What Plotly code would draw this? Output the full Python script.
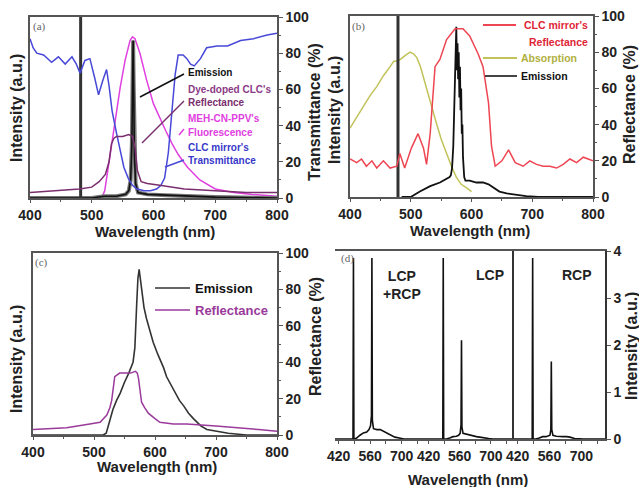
import plotly.graph_objects as go

W, H = 639, 487


def px(x):
    return x / W


def py(y):
    return 1 - y / H


# ---------------- data ----------------
# Panel (a)
a_pump_wl = [482, 482]
a_pump_int = [0, 100]

a_fluor_wl = [505, 516, 521, 530, 538, 546, 554, 562, 566, 570, 578, 589, 600, 610, 620, 630, 640, 655, 675, 700, 730, 760, 800]
a_fluor_int = [0, 0, 4, 25, 43, 61, 76, 87, 89, 88, 80, 65, 52, 44, 37, 30, 24, 17, 10, 5, 3, 2, 1]

a_emis_wl = [400, 500, 520, 540, 555, 560, 563, 565, 566, 567, 568, 569, 571, 575, 590, 620, 660, 700, 800]
a_emis_int = [0, 0, 1, 1, 2, 4, 10, 30, 60, 87, 60, 25, 8, 3, 2, 1.5, 1, 0.5, 0]

a_refl_wl = [400, 450, 480, 500, 512, 522, 528, 532, 536, 540, 550, 560, 566, 570, 574, 580, 590, 610, 650, 700, 750, 800]
a_refl_pct = [3, 4, 5, 6, 9, 13, 20, 30, 33, 34, 34, 35, 34, 28, 15, 9, 8, 7, 5, 4, 3, 3]

a_trans_wl = [400, 405, 411, 422, 435, 446, 457, 468, 475, 481, 489, 497, 505, 511, 518, 524, 528, 533, 540, 546,
              552, 559, 566, 573, 585, 595, 605, 612, 618, 624, 630, 635, 640, 648, 654, 660, 666, 676, 686, 703,
              720, 741, 762, 784, 800]
a_trans_pct = [88, 83, 80, 79, 75, 78, 74, 78, 74, 69, 76, 77, 66, 57, 65, 71, 62, 48, 36, 26,
               17, 11, 7, 5, 4, 4, 5, 7, 11, 25, 50, 68, 79, 79, 77, 74, 73, 77, 83, 84,
               84, 87, 88, 90, 91]

# Panel (b)
b_pump_wl = [479, 479]
b_pump_int = [0, 100]

b_refl_wl = [400, 411, 419, 427, 436, 444, 455, 466, 477, 482, 490, 501, 512, 521, 526, 532, 540, 548, 559, 573,
             586, 597, 611, 619, 628, 633, 639, 650, 661, 672, 685, 696, 707, 718, 729, 740, 751, 762, 773, 784, 800]
b_refl_pct = [21, 19, 21, 17, 20, 16, 20, 16, 17, 24, 16, 27, 35, 27, 18, 35, 72, 76, 87, 93,
              93, 89, 79, 72, 52, 28, 17, 20, 26, 19, 17, 20, 18, 17, 17, 16, 18, 21, 19, 22, 20]

b_abs_wl = [400, 411, 422, 433, 444, 455, 466, 472, 477, 483, 490, 499, 505, 510, 516, 521, 527, 532, 537, 542,
            550, 559, 567, 575, 583, 592, 600]
b_abs_int = [38, 44, 50, 56, 61, 67, 72, 75, 75, 76, 78, 80, 79, 77, 72, 66, 59, 52, 46, 41,
             32, 24, 17, 11, 7, 5, 3]

b_emis_wl = [485, 500, 515, 532, 548, 558, 564, 566, 568, 570, 571, 572, 573, 574, 575, 576, 577, 578, 579, 580,
             581, 582, 583, 584, 585, 586, 587, 588, 590, 597, 608, 619, 628, 636, 646, 658, 675, 690, 710, 740, 800]
b_emis_int = [0, 0, 3, 6, 8, 10, 11, 12, 16, 28, 45, 60, 75, 88, 94, 70, 85, 65, 80, 55,
              72, 48, 60, 35, 40, 22, 15, 11, 9, 9, 8, 8, 7, 5, 3, 2, 1, 0.5, 0, 0, 0]

# Panel (c)
c_emis_wl = [400, 515, 520, 526, 531, 537, 543, 550, 557, 564, 567, 570, 572, 574, 576, 578, 582, 586, 592, 597,
             605, 614, 619, 630, 640, 647, 655, 663, 675, 685, 700, 720, 750, 800]
c_emis_int = [0, 0, 1, 9, 14, 19, 23, 29, 34, 40, 48, 72, 86, 91, 85, 79, 70, 64, 57, 51,
              44, 37, 32, 25, 19, 16, 12, 9, 5, 3, 2, 1, 0, 0]

c_refl_wl = [400, 455, 493, 510, 521, 526, 529, 532, 534, 538, 542, 550, 560, 568, 571, 573, 576, 578, 583, 589,
             600, 608, 630, 652, 700, 729, 770, 800]
c_refl_pct = [3, 4, 6, 7, 11, 15, 19, 27, 32, 33, 34, 34, 34, 35, 34, 31, 24, 18, 15, 12,
              9, 7, 6, 6, 5, 4, 3, 2]

# Panel (d): three polarisation cases
d_wl = [404, 480, 484, 486, 488, 492, 500, 515, 530, 545, 555, 562, 566, 568, 570, 575, 590, 605, 620, 635,
        650, 670, 690, 710, 804]
d_lcp_rcp = [0, 0, 0, 3.85, 0, 0, 0.02, 0.08, 0.13, 0.15, 0.2, 0.28, 0.5, 3.85, 0.4, 0.22, 0.2, 0.2, 0.16, 0.12,
             0.08, 0.04, 0.02, 0, 0]
d_lcp = [0, 0, 0, 3.85, 0, 0, 0, 0.02, 0.05, 0.06, 0.08, 0.12, 0.3, 2.1, 0.25, 0.12, 0.1, 0.09, 0.07, 0.05,
         0.04, 0.02, 0.01, 0, 0]
d_rcp = [0, 0, 0, 3.85, 0, 0, 0, 0.02, 0.05, 0.05, 0.06, 0.08, 0.2, 1.65, 0.2, 0.08, 0.06, 0.05, 0.05, 0.05,
         0.04, 0.01, 0, 0, 0]
d_case_labels = ["LCP<br>+RCP", "LCP", "RCP"]

x_ticks = [400, 500, 600, 700, 800]
pct_ticks = [0, 20, 40, 60, 80, 100]
d_x_ticks = [420, 490, 560, 630, 700, 770]
d_x_ticktext = ["420", "", "560", "", "700", ""]
d_y_ticks = [0, 1, 2, 3, 4]

# ---------------- colours ----------------
BLACK = "#111111"
MAGENTA = "#E040E0"
PLUM = "#7A2E6E"
BLUE = "#4848D8"
RED = "#EE4552"
OLIVE = "#C2C25A"
PURPLE = "#9A3A9A"
AXIS = "#555555"
TXT = "#222222"
FONT = "Liberation Sans, Arial, sans-serif"

fig = go.Figure()


def line(x, y, color, xa, ya, width=1.5):
    fig.add_trace(go.Scatter(x=x, y=y, mode="lines", xaxis=xa, yaxis=ya,
                             line=dict(color=color, width=width), showlegend=False,
                             hoverinfo="skip"))


# (a)
line(a_trans_wl, a_trans_pct, BLUE, "x", "y2")
line(a_fluor_wl, a_fluor_int, MAGENTA, "x", "y")
line(a_refl_wl, a_refl_pct, PLUM, "x", "y2")
line(a_emis_wl, a_emis_int, "#777777", "x", "y", 4)
line(a_emis_wl, a_emis_int, BLACK, "x", "y", 1.6)
line(a_pump_wl, a_pump_int, "#333333", "x", "y", 3)
# (b)
line(b_refl_wl, b_refl_pct, RED, "x2", "y4")
line(b_abs_wl, b_abs_int, OLIVE, "x2", "y3")
line(b_emis_wl, b_emis_int, BLACK, "x2", "y3", 1.8)
line(b_pump_wl, b_pump_int, "#333333", "x2", "y3", 3)
# (c)
line(c_refl_wl, c_refl_pct, PURPLE, "x3", "y6")
line(c_emis_wl, c_emis_int, "#333333", "x3", "y5", 1.6)
# (d)
for xa, vals in zip(["x4", "x5", "x6"], [d_lcp_rcp, d_lcp, d_rcp]):
    line(d_wl, vals, BLACK, xa, "y7", 1.6)

tickfont = dict(family=FONT, size=14, color=TXT, weight="bold")

xcommon = dict(range=[400, 800], tickvals=x_ticks, ticks="outside", ticklen=3, tickcolor=AXIS,
               showline=True, linecolor=AXIS, linewidth=1.5, mirror=True, showgrid=False,
               zeroline=False, tickfont=tickfont, automargin=False,
               minor=dict(tickvals=[450, 550, 650, 750], ticks="outside", ticklen=2, tickcolor=AXIS))
yleft = dict(range=[0, 100], showticklabels=False, ticks="", showline=True, linecolor=AXIS,
             linewidth=1.5, showgrid=False, zeroline=False, automargin=False)
yright = dict(range=[0, 100], tickvals=pct_ticks, side="right", ticks="outside", ticklen=4,
              tickcolor=AXIS, showline=True, linecolor=AXIS, linewidth=1.5, showgrid=False,
              zeroline=False, tickfont=tickfont, automargin=False,
              minor=dict(tickvals=[10, 30, 50, 70, 90], ticks="outside", ticklen=2, tickcolor=AXIS))

dom_a_x = [px(30), px(277)]
dom_a_y = [py(198), py(17)]
dom_b_x = [px(350), px(593)]
dom_b_y = [py(197), py(16)]
dom_c_x = [px(33), px(277)]
dom_c_y = [py(435), py(253)]
dom_d_y = [py(439), py(251)]
dom_d1 = [px(335), px(425)]
dom_d2 = [px(425), px(514)]
dom_d3 = [px(514), px(605)]

dx = dict(range=[404, 804], tickvals=d_x_ticks, ticktext=d_x_ticktext, ticks="outside", ticklen=3,
          tickcolor=AXIS, showline=True, linecolor=AXIS, linewidth=1.5, mirror=True, showgrid=False,
          zeroline=False, tickfont=tickfont, automargin=False)
dy_side = dict(range=[0, 4], showticklabels=False, ticks="", showline=True, linecolor="#333333",
               linewidth=1.5, mirror=True, showgrid=False, zeroline=False, domain=dom_d_y,
               automargin=False)

fig.update_layout(
    template="none",
    width=W, height=H, autosize=False,
    margin=dict(l=0, r=0, t=0, b=0, pad=0),
    paper_bgcolor="white", plot_bgcolor="white",
    font=dict(family=FONT, color=TXT),
    xaxis=dict(domain=dom_a_x, anchor="y", **xcommon),
    yaxis=dict(domain=dom_a_y, anchor="x", **yleft),
    yaxis2=dict(overlaying="y", anchor="x", **yright),
    xaxis2=dict(domain=dom_b_x, anchor="y3", **xcommon),
    yaxis3=dict(domain=dom_b_y, anchor="x2", **yleft),
    yaxis4=dict(overlaying="y3", anchor="x2", **yright),
    xaxis3=dict(domain=dom_c_x, anchor="y5", **xcommon),
    yaxis5=dict(domain=dom_c_y, anchor="x3", **yleft),
    yaxis6=dict(overlaying="y5", anchor="x3", **yright),
    xaxis4=dict(domain=dom_d1, anchor="y7", **dx),
    xaxis5=dict(domain=dom_d2, anchor="y7", **dx),
    xaxis6=dict(domain=dom_d3, anchor="y7", **dx),
    yaxis7=dict(domain=dom_d_y, anchor="x6", side="right", range=[0, 4], tickvals=d_y_ticks,
                ticks="outside", ticklen=4, tickcolor=AXIS, showline=True, linecolor="#333333",
                linewidth=1.5, mirror=True, showgrid=False, zeroline=False, tickfont=tickfont,
                automargin=False),
    yaxis8=dict(anchor="x4", **dy_side),
    yaxis9=dict(anchor="x5", **dy_side),
)

ann = []


def text(x, y, s, size=14, color=TXT, angle=0, xanchor="center", bold=True, family=FONT):
    ann.append(dict(x=px(x), y=py(y), xref="paper", yref="paper", text=s, showarrow=False,
                    textangle=angle, xanchor=xanchor, yanchor="middle",
                    font=dict(family=family, size=size, color=color, weight="bold" if bold else "normal")))


# axis titles
for (x, y) in [(155, 231), (470, 230), (157, 466), (468, 479)]:
    text(x, y, "Wavelength (nm)", 15)
for (x, y) in [(17, 108), (334, 110), (16, 359)]:
    text(x, y, "Intensity (a.u.)", 16, angle=-90)
text(315, 112, "Transmittance (%)", 16, angle=-90)
text(629, 105, "Reflectance (%)", 16, angle=-90)
text(315, 337, "Reflectance (%)", 16, angle=-90)
text(631, 346, "Intensity (a.u.)", 16, angle=-90)

# panel letters
serif = "Liberation Serif, Times New Roman, serif"
text(39, 27, "(a)", 11, "#666666", bold=False, family=serif)
text(358, 26, "(b)", 11, "#666666", bold=False, family=serif)
text(41, 262, "(c)", 11, "#666666", bold=False, family=serif)
text(339, 258, "(d)", 11, "#666666", bold=False, family=serif, xanchor="left")

# (a) labels
text(186, 73, "Emission", 10, BLACK, xanchor="left")
text(186, 89, "Dye-doped CLC's", 10, "#8A3A86", xanchor="left")
text(186, 102, "Reflectance", 10, PLUM, xanchor="left")
text(186, 118, "MEH-CN-PPV's", 10, MAGENTA, xanchor="left")
text(186, 132, "Fluorescence", 10, MAGENTA, xanchor="left")
text(186, 147, "CLC mirror's", 10, "#3838C8", xanchor="left")
text(186, 160, "Transmittance", 10, "#3838C8", xanchor="left")

# (b) legend
text(590, 25, "CLC mirror's", 10.5, "#E02535", xanchor="right")
text(590, 42, "Reflectance", 10.5, "#E02535", xanchor="right")
text(519, 58, "Absorption", 10.5, "#B0B040", xanchor="left")
text(519, 76, "Emission", 10.5, BLACK, xanchor="left")

# (c) legend
text(193, 288, "Emission", 13, BLACK, xanchor="left")
text(193, 310, "Reflectance", 13, PURPLE, xanchor="left")

# (d) case labels
text(402, 285, d_case_labels[0], 14)
text(490, 275, d_case_labels[1], 14)
text(577, 275, d_case_labels[2], 14)

shapes = []


def seg(x0, y0, x1, y1, color, width=1.5):
    shapes.append(dict(type="line", xref="paper", yref="paper", x0=px(x0), y0=py(y0), x1=px(x1),
                       y1=py(y1), line=dict(color=color, width=width)))


# (a) pointer lines
seg(184, 74, 140, 97, BLACK)
seg(184, 101, 142, 143, PLUM)
seg(184, 129, 179, 135, MAGENTA)
seg(184, 160, 165, 167, BLUE)
# (b) legend samples
seg(483, 25, 516, 25, RED, 2)
seg(483, 58, 517, 58, OLIVE, 2)
seg(485, 76, 517, 76, "#444444", 2)
# (c) legend samples
seg(155, 288, 190, 288, "#333333")
seg(155, 310, 190, 310, PURPLE)

fig.update_layout(annotations=ann, shapes=shapes)

fig.write_html("out.html", config={"displayModeBar": False},
               post_script="document.body.style.margin='0';document.body.style.padding='0';"
                           "document.body.style.overflow='hidden';")
